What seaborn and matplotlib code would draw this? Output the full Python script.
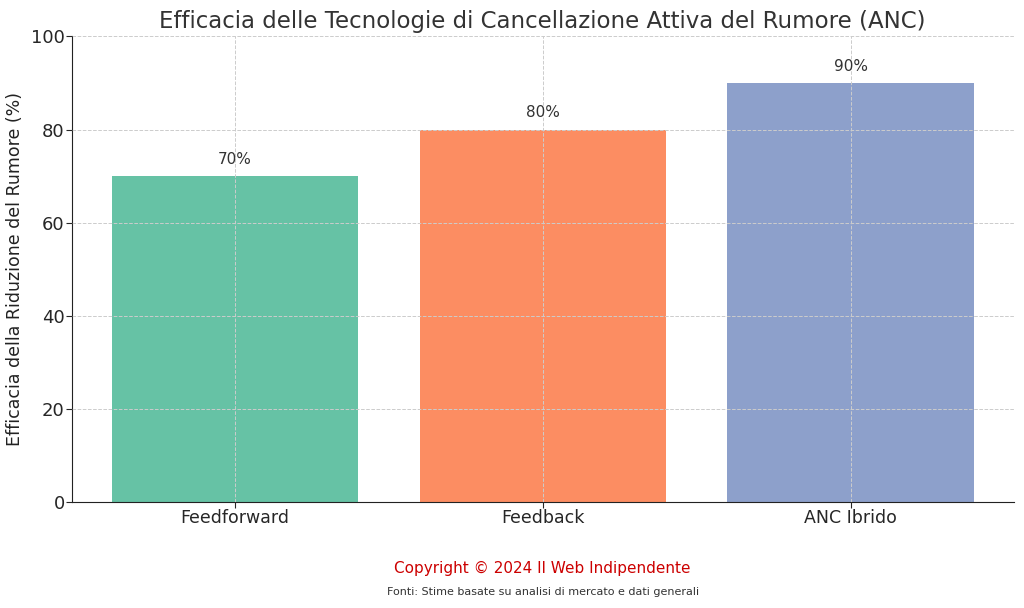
import matplotlib
matplotlib.use("Agg")
import matplotlib.pyplot as plt
import seaborn as sns
import pandas as pd

# data
tecnologie = ["Feedforward", "Feedback", "ANC Ibrido"]
efficacia = [70, 80, 90]
colori = ["#66c2a5", "#fc8d62", "#8da0cb"]

df = pd.DataFrame({"Tecnologia": tecnologie, "Efficacia": efficacia})

sns.set_style("white")
plt.rcParams['font.family'] = ['DejaVu Sans']

fig, ax = plt.subplots(figsize=(10.24, 6.08), dpi=100)
fig.subplots_adjust(left=0.07, right=0.99, top=0.94, bottom=0.175)

sns.barplot(data=df, x="Tecnologia", y="Efficacia", hue="Tecnologia",
            palette=colori, width=0.8, saturation=1, legend=False,
            linewidth=0, ax=ax)

for i, v in enumerate(efficacia):
    ax.text(i, v + 2, f"{v}%", ha="center", va="bottom", fontsize=11, color="#333333")

ax.set_ylim(0, 100)
ax.set_xlim(-0.53, 2.53)
ax.set_title("Efficacia delle Tecnologie di Cancellazione Attiva del Rumore (ANC)",
             fontsize=16.5, color="#333333")
ax.set_xlabel("")
ax.set_ylabel("Efficacia della Riduzione del Rumore (%)", fontsize=12.5,
              color="#222222", labelpad=5)
ax.tick_params(axis="both", labelsize=13, length=4, pad=3, left=True, bottom=True)
ax.tick_params(axis="y", pad=1)
ax.tick_params(axis="x", labelsize=12.5, pad=1)
ax.grid(True, linestyle="--", color="#cccccc", linewidth=0.7)
ax.set_axisbelow(False)
for side in ["top", "right"]:
    ax.spines[side].set_visible(False)
for side in ["left", "bottom"]:
    ax.spines[side].set_color("#222222")

fig.text(0.53, 0.058, "Copyright © 2024 Il Web Indipendente", ha="center",
         fontsize=11, color="#cc0000")
fig.text(0.53, 0.022, "Fonti: Stime basate su analisi di mercato e dati generali",
         ha="center", fontsize=8, color="#333333")

fig.savefig("out.png", dpi=100)
